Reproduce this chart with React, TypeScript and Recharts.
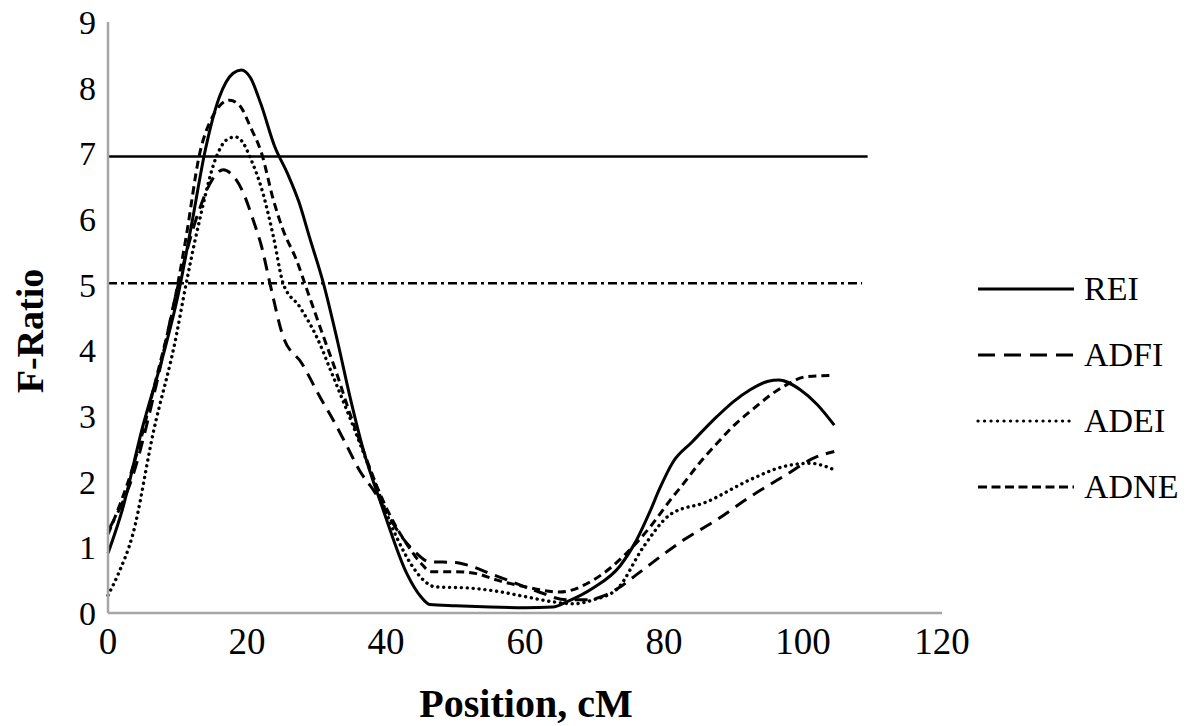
import { Line, LineChart, XAxis, YAxis } from "recharts";

// [position cM, F-ratio]
const rei: [number, number][] = [
  [0, 0.91], [2, 1.55], [5, 2.84], [8, 3.95], [10, 4.8], [12, 5.9], [14, 7.05],
  [16, 7.85], [18, 8.22], [19.2, 8.27], [20.5, 8.15], [22, 7.75], [24, 7.1],
  [25.8, 6.7], [27.5, 6.25], [29, 5.72], [31, 5.02], [33, 4.15], [34.8, 3.3],
  [36.7, 2.5], [39.6, 1.57], [43, 0.6], [45, 0.25], [46.3, 0.13], [50, 0.11],
  [55, 0.09], [60, 0.08], [64, 0.09], [66, 0.17], [69.8, 0.38], [73.7, 0.72],
  [76, 1.1], [78, 1.55], [79.4, 1.9], [81.3, 2.3], [84, 2.6], [87.6, 2.99],
  [90, 3.22], [92.4, 3.4], [95, 3.53], [96.5, 3.55], [99.6, 3.4], [102, 3.18],
  [104.5, 2.86],
];

const adfi: [number, number][] = [
  [0, 1.25], [3.6, 2.1], [7, 3.5], [10, 4.95], [13, 6.1], [15, 6.6], [16.6, 6.75],
  [17.6, 6.7], [19.5, 6.39], [20.9, 5.98], [22.1, 5.58], [23.3, 5.02], [25.2, 4.21],
  [27.9, 3.8], [30.5, 3.29], [32.4, 2.94], [34.1, 2.6], [36.3, 2.15], [38.2, 1.87],
  [40, 1.55], [42, 1.2], [44, 0.95], [46.3, 0.78], [50, 0.77], [52, 0.72], [55, 0.6],
  [58, 0.48], [62, 0.32], [66, 0.2], [69, 0.2], [71.3, 0.26], [74, 0.42],
  [76, 0.58], [78, 0.74], [80, 0.9], [82.8, 1.11], [87.6, 1.42], [92.4, 1.77],
  [97.2, 2.08], [102, 2.38], [104.5, 2.46],
];

const adei: [number, number][] = [
  [0, 0.27], [1.5, 0.6], [3.6, 1.21], [6.5, 2.74], [9.9, 4.26], [10.8, 4.77],
  [13, 5.9], [15.6, 6.95], [17, 7.2], [18.3, 7.25], [19.5, 7.15], [20.4, 6.95],
  [22.3, 6.39], [23.8, 5.73], [25.2, 5.02], [27.6, 4.66], [30, 4.21], [32.4, 3.6],
  [35.3, 2.84], [38, 2.1], [41.5, 1.16], [44, 0.68], [45.4, 0.5], [47, 0.4],
  [52, 0.38], [56, 0.33], [60, 0.25], [64, 0.17], [67, 0.14], [69.8, 0.2],
  [73.2, 0.36], [77, 1.0], [80.9, 1.5], [86.1, 1.69], [92.4, 2.03], [97.2, 2.23],
  [101, 2.28], [104.5, 2.18],
];

const adne: [number, number][] = [
  [0, 1.2], [3.6, 2.23], [7, 3.6], [9.4, 4.66], [11.2, 5.7], [13.2, 7.0], [15, 7.55],
  [17.5, 7.81], [19, 7.72], [20.5, 7.4], [22.1, 7.0], [23.8, 6.29], [25.2, 5.83],
  [27.1, 5.38], [28.8, 4.87], [31, 4.21], [32.9, 3.65], [34.8, 3.04], [37, 2.4],
  [39, 1.85], [41, 1.4], [43, 1.05], [45, 0.76], [46.5, 0.63], [50, 0.63], [53, 0.6],
  [56, 0.5], [60, 0.4], [65, 0.32], [69.8, 0.5], [74.6, 0.91], [78, 1.31],
  [80.9, 1.72], [82.8, 1.97], [85, 2.27], [87.6, 2.58], [90, 2.85], [92.4, 3.07],
  [97.2, 3.45], [100.5, 3.6], [104.5, 3.62],
];

// significance thresholds
const thr1: [number, number][] = [[0, 6.95], [109.3, 6.95]];
const thr5: [number, number][] = [[0, 5.02], [108.5, 5.02]];

const xTicks = [0, 20, 40, 60, 80, 100, 120];
const yTicks = [0, 1, 2, 3, 4, 5, 6, 7, 8, 9];

const rows = (pts: [number, number][]) => pts.map(([x, y]) => ({ x, y }));

const FONT = '"Liberation Serif", "Times New Roman", serif';

const legendItems = [
  { name: "REI", dash: undefined as string | undefined, cap: "butt" },
  { name: "ADFI", dash: "17 9", cap: "butt" },
  { name: "ADEI", dash: "0.1 6.4", cap: "round" },
  { name: "ADNE", dash: "9 4.5", cap: "butt" },
];

function ChartLegend() {
  return (
    <div style={{ position: "absolute", left: 976, top: 256, fontFamily: FONT }}>
      {legendItems.map((it) => (
        <div key={it.name} style={{ display: "flex", alignItems: "center", height: 66 }}>
          <svg width={100} height={10} style={{ marginRight: 8 }}>
            <line
              x1={2} y1={5} x2={98} y2={5}
              stroke="#000" strokeWidth={it.cap === "round" ? 3.2 : 3}
              strokeDasharray={it.dash} strokeLinecap={it.cap as "butt" | "round"}
            />
          </svg>
          <span style={{ fontSize: 34, color: "#000" }}>{it.name}</span>
        </div>
      ))}
    </div>
  );
}

const YTitle = () => (
  <text
    x={30} y={331} transform="rotate(-90 30 331)" textAnchor="middle" dominantBaseline="central"
    fontSize={38} fontWeight={700} fontFamily={FONT} fill="#000"
  >
    F-Ratio
  </text>
);

const XTitle = () => (
  <text
    x={526} y={703} textAnchor="middle" dominantBaseline="central"
    fontSize={40} fontWeight={700} fontFamily={FONT} fill="#000"
  >
    Position, cM
  </text>
);

export default function App() {
  return (
    <div style={{ position: "absolute", left: 0, top: 0, width: 1200, height: 726, background: "#fff" }}>
      <LineChart width={1200} height={726} margin={{ top: 22, right: 258, bottom: 0, left: 0 }}>
        <XAxis
          dataKey="x" type="number" domain={[0, 120]} ticks={xTicks}
          allowDuplicatedCategory={false}
          height={113} tickLine={false} tickSize={0} tickMargin={15}
          axisLine={{ stroke: "#a6a6a6", strokeWidth: 2.5 }}
          tick={{ fill: "#000", fontSize: 37, fontFamily: FONT }}
          label={{ content: () => <XTitle /> }}
        />
        <YAxis
          type="number" domain={[0, 9]} ticks={yTicks} interval={0}
          width={108} tickLine={false} tickSize={0} tickMargin={12}
          axisLine={{ stroke: "#a6a6a6", strokeWidth: 2.5 }}
          tick={{ fill: "#000", fontSize: 34, fontFamily: FONT }}
          label={{ content: () => <YTitle /> }}
        />
        <Line data={rows(thr1)} dataKey="y" type="linear" stroke="#000" strokeWidth={2.5} dot={false} isAnimationActive={false} />
        <Line data={rows(thr5)} dataKey="y" type="linear" stroke="#000" strokeWidth={2.5} strokeDasharray="9 4 3 4" dot={false} isAnimationActive={false} />
        <Line data={rows(adfi)} dataKey="y" type="monotone" stroke="#000" strokeWidth={3} strokeDasharray="13 8" dot={false} isAnimationActive={false} />
        <Line data={rows(adne)} dataKey="y" type="monotone" stroke="#000" strokeWidth={3} strokeDasharray="8 5" dot={false} isAnimationActive={false} />
        <Line data={rows(adei)} dataKey="y" type="monotone" stroke="#000" strokeWidth={3.4} strokeDasharray="0.1 5.8" strokeLinecap="round" dot={false} isAnimationActive={false} />
        <Line data={rows(rei)} dataKey="y" type="monotone" stroke="#000" strokeWidth={3} dot={false} isAnimationActive={false} />
      </LineChart>
      <ChartLegend />
    </div>
  );
}
